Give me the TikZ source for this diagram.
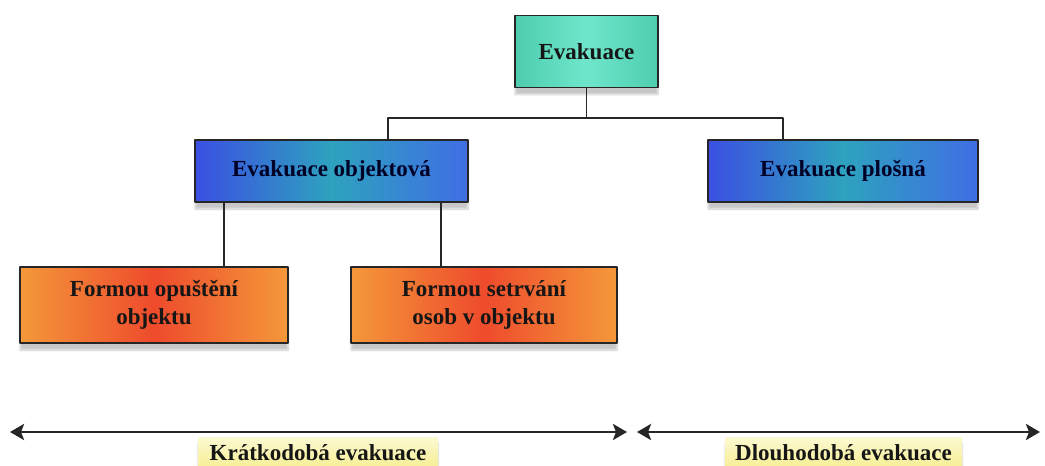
\documentclass[tikz,border=0pt]{standalone}
\usepackage{fontspec}
\setmainfont{Liberation Serif}
\usetikzlibrary{arrows.meta,shadows.blur}

\definecolor{tealside}{HTML}{4ECDAE}
\definecolor{tealmid}{HTML}{6FE6CB}
\definecolor{blueleft}{HTML}{3B4FE2}
\definecolor{blueright}{HTML}{3F6EE4}
\definecolor{bluemid}{HTML}{2EA2BE}
\definecolor{orangeside}{HTML}{F4983A}
\definecolor{orangemid}{HTML}{EE4B2C}
\definecolor{tagyellow}{HTML}{F6EE94}
\definecolor{tagtop}{HTML}{FCF9D2}
\definecolor{inktext}{HTML}{161616}

\begin{document}
\begin{tikzpicture}[x=1pt, y=-1pt, line cap=round, line join=round,
  box/.style={draw=black!85, line width=1.3pt, align=center, inner sep=0pt,
    font=\fontsize{23}{28}\selectfont\bfseries, text=inktext,
    blur shadow={shadow xshift=0pt, shadow yshift=-7pt, shadow opacity=22, shadow blur steps=10}},
  rootbox/.style={box, minimum width=143pt, minimum height=72pt,
    left color=tealside, right color=tealside, middle color=tealmid},
  bluebox/.style={box, minimum height=62pt,
    left color=blueleft, right color=blueright, middle color=bluemid, text=black!85!blue},
  orangebox/.style={box, minimum height=76pt,
    left color=orangeside, right color=orangeside, middle color=orangemid},
  conn/.style={line width=1.7pt, black!85},
  span/.style={line width=2.8pt, black!85, {Stealth[length=14pt, width=16pt, inset=3pt]}-{Stealth[length=14pt, width=16pt, inset=3pt]}},
  tag/.style={anchor=north, inner sep=0pt, minimum width=240pt, minimum height=31pt,
    top color=tagtop, bottom color=tagyellow, text=inktext,
    font=\fontsize{23}{26}\selectfont\bfseries,
    blur shadow={shadow xshift=0pt, shadow yshift=-6pt, shadow opacity=18, shadow blur steps=10}}]
\useasboundingbox (0,0) rectangle (1045,466);
\clip (0,0) rectangle (1045,466);

% boxes
\node[rootbox] (root) at (586.5,51.5) {Evakuace};
\node[bluebox, minimum width=273pt] (obj) at (331.5,171) {Evakuace objektová};
\node[bluebox, minimum width=270pt] (plos) at (843,171) {Evakuace plošná};
\node[orangebox, minimum width=268pt] (opust) at (154,305) {Formou opuštění\\objektu};
\node[orangebox, minimum width=266pt] (setrv) at (484,305) {Formou setrvání\\osob v objektu};

% connectors
\coordinate (bus) at (586.5,118);
\draw[conn] (root.south) -- (bus);
\draw[conn] (bus) -| ([xshift=56.5pt]obj.north);
\draw[conn] (bus) -| ([xshift=-60pt]plos.north);
\draw[conn] ([xshift=70pt]opust.north) -- ([xshift=70pt]opust.north |- obj.south);
\draw[conn] ([xshift=-43pt]setrv.north) -- ([xshift=-43pt]setrv.north |- obj.south);

% time spans
\coordinate (kratL) at (10,432);
\coordinate (kratR) at (627,432);
\coordinate (dlouL) at (637,432);
\coordinate (dlouR) at (1040,432);
\draw[span] (kratL) -- (kratR);
\draw[span] (dlouL) -- (dlouR);
\node[tag] (krat) at (318,437) {Krátkodobá evakuace};
\node[tag, minimum width=237pt] (dlou) at (843.5,437) {Dlouhodobá evakuace};
\end{tikzpicture}
\end{document}
